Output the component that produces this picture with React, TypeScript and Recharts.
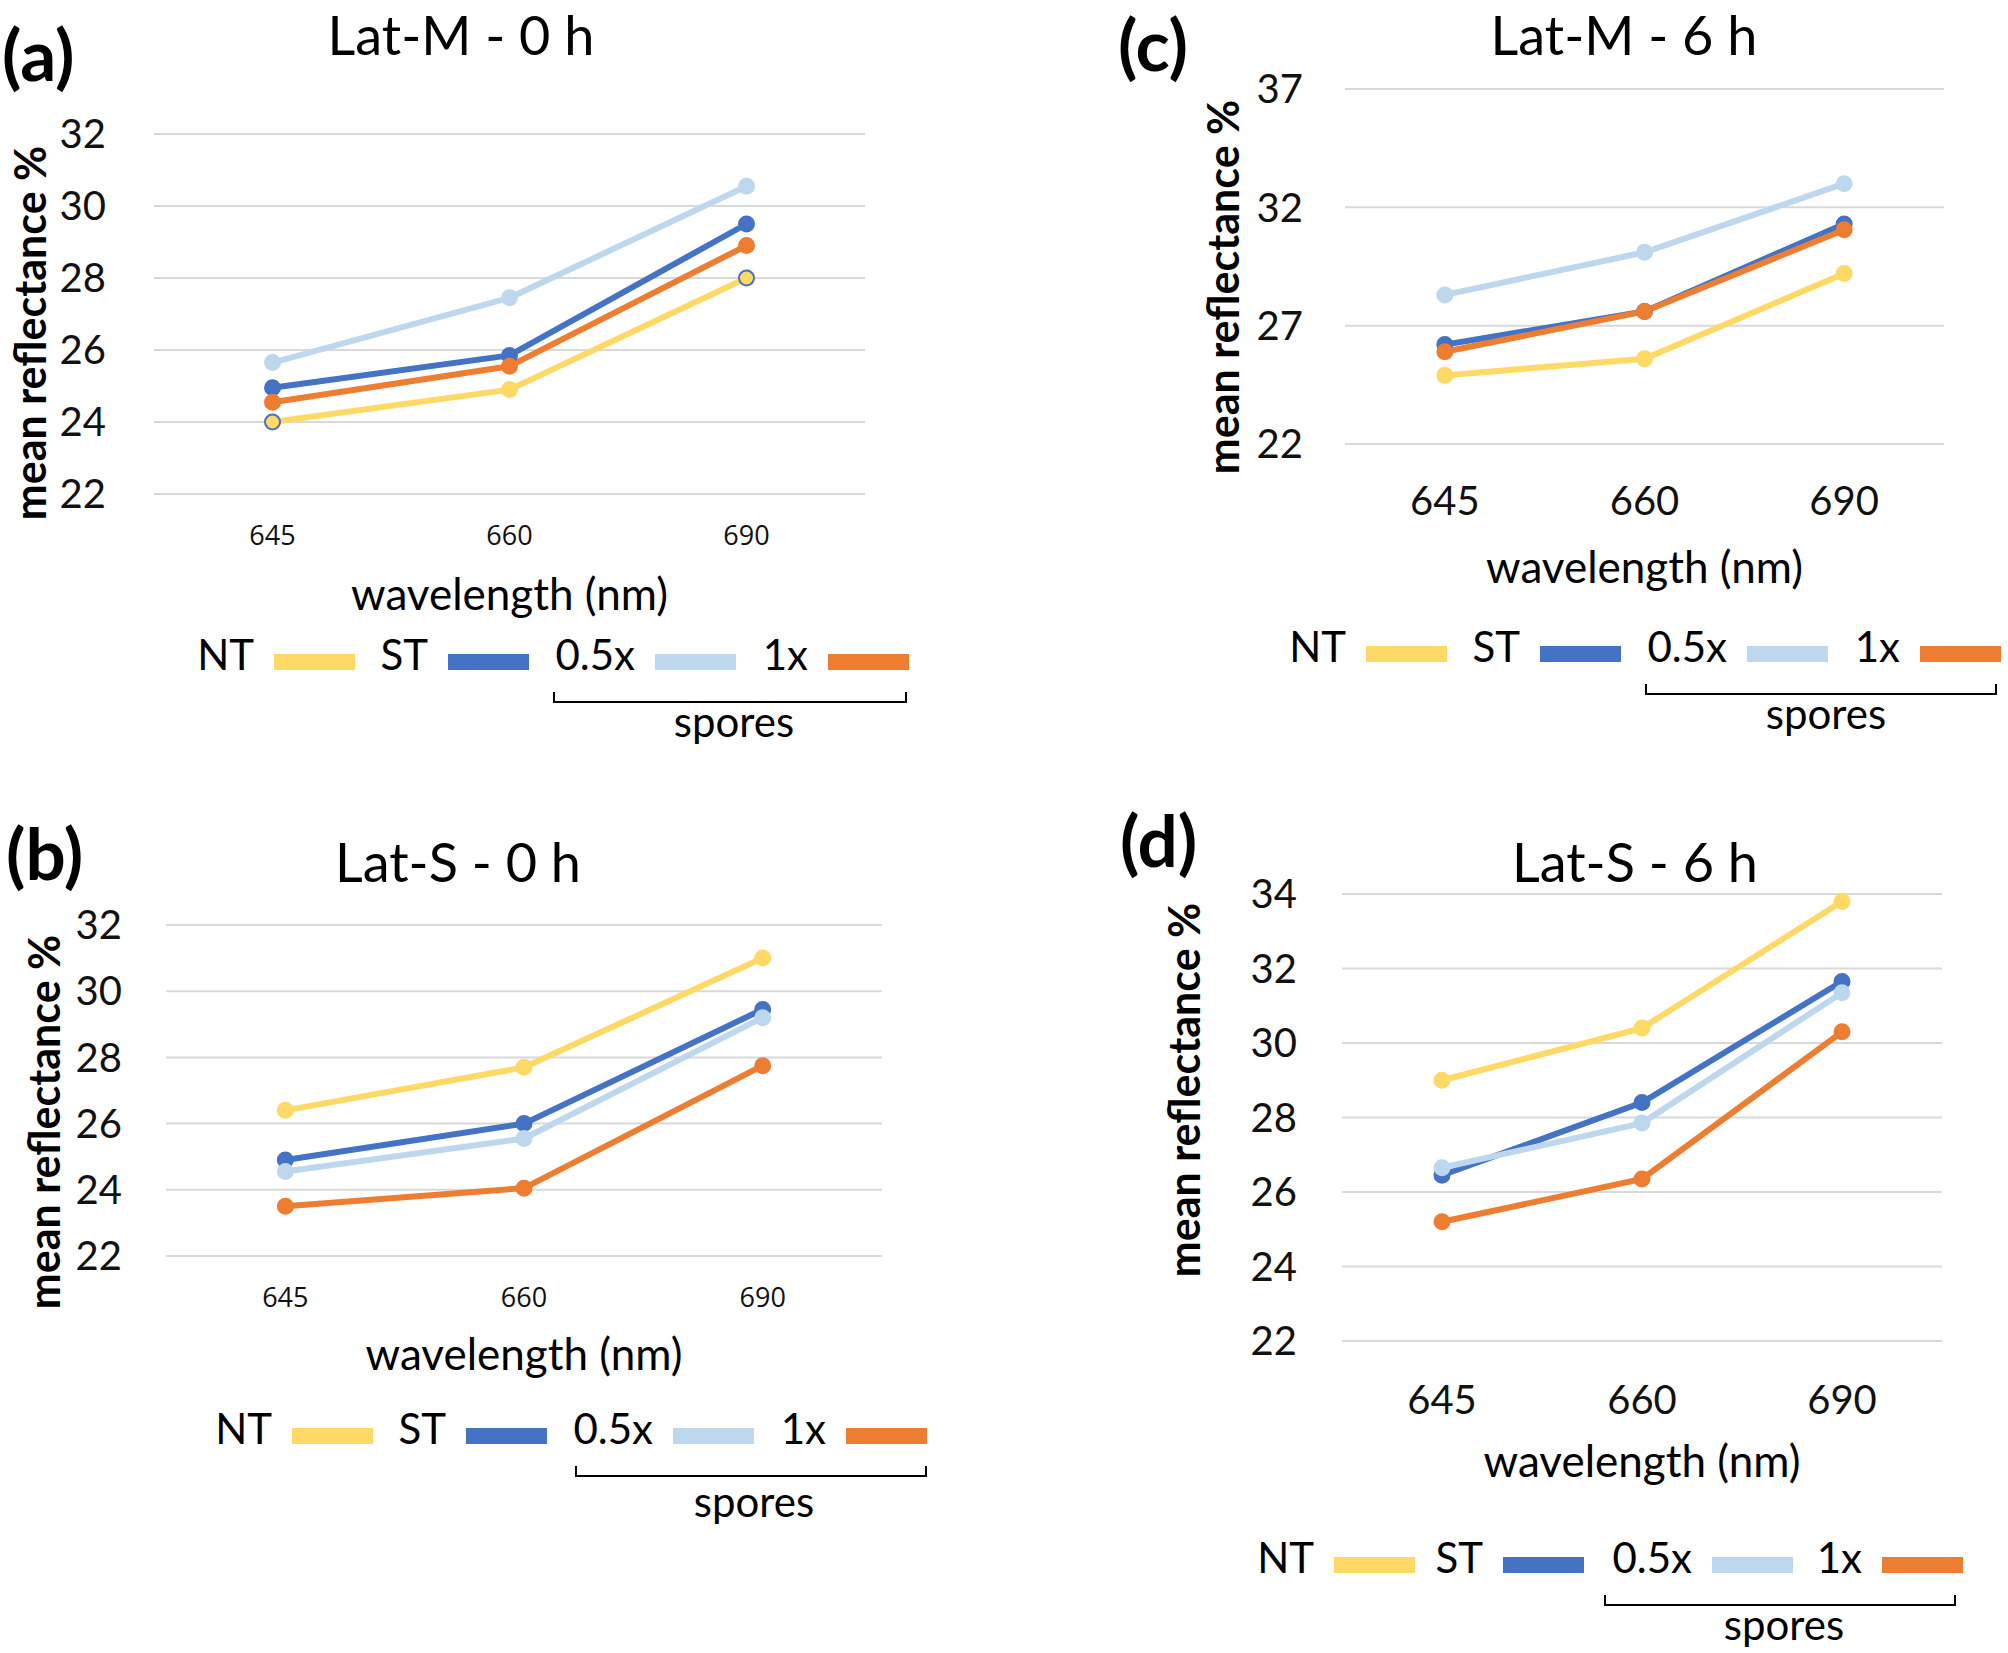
import React from 'react';
import { LineChart, Line, XAxis, YAxis, CartesianGrid } from 'recharts';

// categories and legend
const wavelengths = ['645', '660', '690'];
const seriesNames = ['NT', 'ST', '0.5x', '1x'];
const seriesColors = ['#FFD966', '#4472C4', '#BDD7EE', '#ED7D31'];

// (a) Lat-M - 0 h
const latM0NT = [24.0, 24.9, 28.0];
const latM0ST = [24.95, 25.85, 29.5];
const latM0Half = [25.65, 27.45, 30.55];
const latM0One = [24.55, 25.55, 28.9];
const latM0Ticks = [22, 24, 26, 28, 30, 32];

// (c) Lat-M - 6 h
const latM6NT = [24.9, 25.6, 29.2];
const latM6ST = [26.2, 27.6, 31.3];
const latM6Half = [28.3, 30.1, 33.0];
const latM6One = [25.9, 27.6, 31.05];
const latM6Ticks = [22, 27, 32, 37];

// (b) Lat-S - 0 h
const latS0NT = [26.4, 27.7, 31.0];
const latS0ST = [24.9, 26.0, 29.45];
const latS0Half = [24.55, 25.55, 29.2];
const latS0One = [23.5, 24.05, 27.75];
const latS0Ticks = [22, 24, 26, 28, 30, 32];

// (d) Lat-S - 6 h
const latS6NT = [29.0, 30.4, 33.8];
const latS6ST = [26.45, 28.4, 31.65];
const latS6Half = [26.65, 27.85, 31.35];
const latS6One = [25.2, 26.35, 30.3];
const latS6Ticks = [22, 24, 26, 28, 30, 32, 34];

const FONT = "Lato, 'Open Sans', sans-serif";
const SMALL_TICK_FONT = "'Open Sans', sans-serif";

interface PanelSpec {
  key: string;
  letter: string;
  letterPos: [number, number];
  title: string;
  titlePos: [number, number];
  series: number[][];
  ticks: number[];
  plot: { x: number; y: number; w: number; h: number };
  yTickGap: number;
  smallXTicks: boolean;
  xTickMargin: number;
  xTitleY: number;
  yTitlePos: [number, number];
  legendPos: [number, number];
  swatchOffsets: number[];
  bracket: [number, number];
  sporesDx: number;
  sporesDy: number;
  outlinedNT?: number[];
}

const defaultOffsets = [0, 174, 381, 554];

const panels: PanelSpec[] = [
  {
    key: 'a', letter: '(a)', letterPos: [2, 81], title: 'Lat-M - 0 h', titlePos: [461, 55],
    series: [latM0NT, latM0ST, latM0Half, latM0One], ticks: latM0Ticks,
    plot: { x: 154, y: 134, w: 711, h: 360 }, yTickGap: 48, smallXTicks: true, xTickMargin: 32,
    xTitleY: 610, yTitlePos: [29, 333], legendPos: [274, 662],
    swatchOffsets: defaultOffsets, bracket: [280, 632], sporesDx: 460, sporesDy: 75, outlinedNT: [0, 2],
  },
  {
    key: 'c', letter: '(c)', letterPos: [1118, 71], title: 'Lat-M - 6 h', titlePos: [1624, 55],
    series: [latM6NT, latM6ST, latM6Half, latM6One], ticks: latM6Ticks,
    plot: { x: 1345, y: 89, w: 599, h: 355 }, yTickGap: 42, smallXTicks: false, xTickMargin: 43,
    xTitleY: 583, yTitlePos: [1222, 287], legendPos: [1366, 654],
    swatchOffsets: defaultOffsets, bracket: [280, 630], sporesDx: 460, sporesDy: 75,
  },
  {
    key: 'b', letter: '(b)', letterPos: [6, 880], title: 'Lat-S - 0 h', titlePos: [458, 882],
    series: [latS0NT, latS0ST, latS0Half, latS0One], ticks: latS0Ticks,
    plot: { x: 166, y: 925, w: 716, h: 331 }, yTickGap: 44, smallXTicks: true, xTickMargin: 32,
    xTitleY: 1370, yTitlePos: [43, 1122], legendPos: [292, 1436],
    swatchOffsets: defaultOffsets, bracket: [284, 634], sporesDx: 462, sporesDy: 81,
  },
  {
    key: 'd', letter: '(d)', letterPos: [1120, 867], title: 'Lat-S - 6 h', titlePos: [1635, 882],
    series: [latS6NT, latS6ST, latS6Half, latS6One], ticks: latS6Ticks,
    plot: { x: 1342, y: 894, w: 600, h: 447 }, yTickGap: 45, smallXTicks: false, xTickMargin: 45,
    xTitleY: 1477, yTitlePos: [1183, 1090], legendPos: [1334, 1565],
    swatchOffsets: [0, 169, 378, 548], bracket: [271, 621], sporesDx: 450, sporesDy: 75,
  },
];

const PAD_L = 160, PAD_T = 30, PAD_R = 30, PAD_B = 110;
const Y_W = 120, X_H = 100;

const Panel: React.FC<{ spec: PanelSpec }> = ({ spec }) => {
  const { plot } = spec;
  const data = wavelengths.map((w, i) => {
    const row: Record<string, string | number> = { w };
    spec.series.forEach((s, k) => { row['s' + k] = s[i]; });
    return row;
  });
  const band = plot.w / 3;
  return (
    <div style={{ position: 'absolute', left: plot.x - PAD_L, top: plot.y - PAD_T }}>
      <LineChart
        width={plot.w + PAD_L + PAD_R}
        height={plot.h + PAD_T + PAD_B}
        data={data}
        margin={{ top: PAD_T, right: PAD_R, bottom: PAD_B - X_H, left: PAD_L - Y_W }}
      >
        <CartesianGrid vertical={false} stroke="#d9d9d9" strokeWidth={2} />
        <XAxis
          dataKey="w"
          padding={{ left: band / 2, right: band / 2 }}
          axisLine={false}
          tickLine={false}
          tickSize={0}
          tickMargin={spec.xTickMargin}
          height={X_H}
          interval={0}
          tick={{
            fontSize: spec.smallXTicks ? 27 : 40,
            fontFamily: spec.smallXTicks ? SMALL_TICK_FONT : FONT,
            fill: '#111',
          }}
        />
        <YAxis
          type="number"
          domain={[spec.ticks[0], spec.ticks[spec.ticks.length - 1]]}
          ticks={spec.ticks}
          width={Y_W}
          axisLine={false}
          tickLine={false}
          tickSize={0}
          tickMargin={spec.yTickGap}
          interval={0}
          tick={{ fontSize: 40, fontFamily: FONT, fill: '#111' }}
        />
        {spec.series.map((_, k) => {
          const color = seriesColors[k];
          const outlined = k === 0 ? spec.outlinedNT || [] : [];
          return (
            <Line
              key={k}
              type="linear"
              dataKey={'s' + k}
              stroke={color}
              strokeWidth={6}
              isAnimationActive={false}
              activeDot={false}
              dot={(p: any) => (
                <circle
                  key={'d' + k + '-' + p.index}
                  cx={p.cx}
                  cy={p.cy}
                  r={7.5}
                  fill={color}
                  stroke={outlined.includes(p.index) ? '#4472C4' : color}
                  strokeWidth={2}
                />
              )}
            />
          );
        })}
      </LineChart>
    </div>
  );
};

const SWATCH_W = 81;
const SWATCH_H = 16;

const Labels: React.FC<{ spec: PanelSpec }> = ({ spec }) => {
  const [lx, ly] = spec.legendPos;
  const plotCx = spec.plot.x + spec.plot.w / 2;
  const [b0, b1] = spec.bracket;
  return (
    <g fontFamily={FONT} fill="#000">
      <text x={spec.letterPos[0]} y={spec.letterPos[1]} fontSize={71} fontWeight="bold">{spec.letter}</text>
      <text x={spec.titlePos[0]} y={spec.titlePos[1]} fontSize={54} textAnchor="middle">{spec.title}</text>
      <text x={plotCx} y={spec.xTitleY} fontSize={44} textAnchor="middle">wavelength (nm)</text>
      <text
        x={spec.yTitlePos[0]}
        y={spec.yTitlePos[1]}
        fontSize={43}
        fontWeight="bold"
        textAnchor="middle"
        dominantBaseline="central"
        transform={`rotate(-90 ${spec.yTitlePos[0]} ${spec.yTitlePos[1]})`}
      >
        mean reflectance %
      </text>
      {seriesNames.map((name, k) => {
        const sx = lx + spec.swatchOffsets[k];
        return (
          <g key={name}>
            <text x={sx - 20} y={ly + SWATCH_H / 2} fontSize={42} textAnchor="end">{name}</text>
            <rect x={sx} y={ly - SWATCH_H / 2} width={SWATCH_W} height={SWATCH_H} fill={seriesColors[k]} />
          </g>
        );
      })}
      <path
        d={`M ${lx + b0} ${ly + 30} L ${lx + b0} ${ly + 40} L ${lx + b1} ${ly + 40} L ${lx + b1} ${ly + 30}`}
        fill="none"
        stroke="#000"
        strokeWidth={2}
      />
      <text x={lx + spec.sporesDx} y={ly + spec.sporesDy} fontSize={42} textAnchor="middle">spores</text>
    </g>
  );
};

const App: React.FC = () => (
  <div style={{ position: 'relative', width: 2008, height: 1653, background: '#fff', overflow: 'hidden' }}>
    <style>{'body{margin:0}'}</style>
    {panels.map((p) => <Panel key={p.key} spec={p} />)}
    <svg width={2008} height={1653} style={{ position: 'absolute', left: 0, top: 0, pointerEvents: 'none' }}>
      {panels.map((p) => <Labels key={p.key} spec={p} />)}
    </svg>
  </div>
);

export default App;
